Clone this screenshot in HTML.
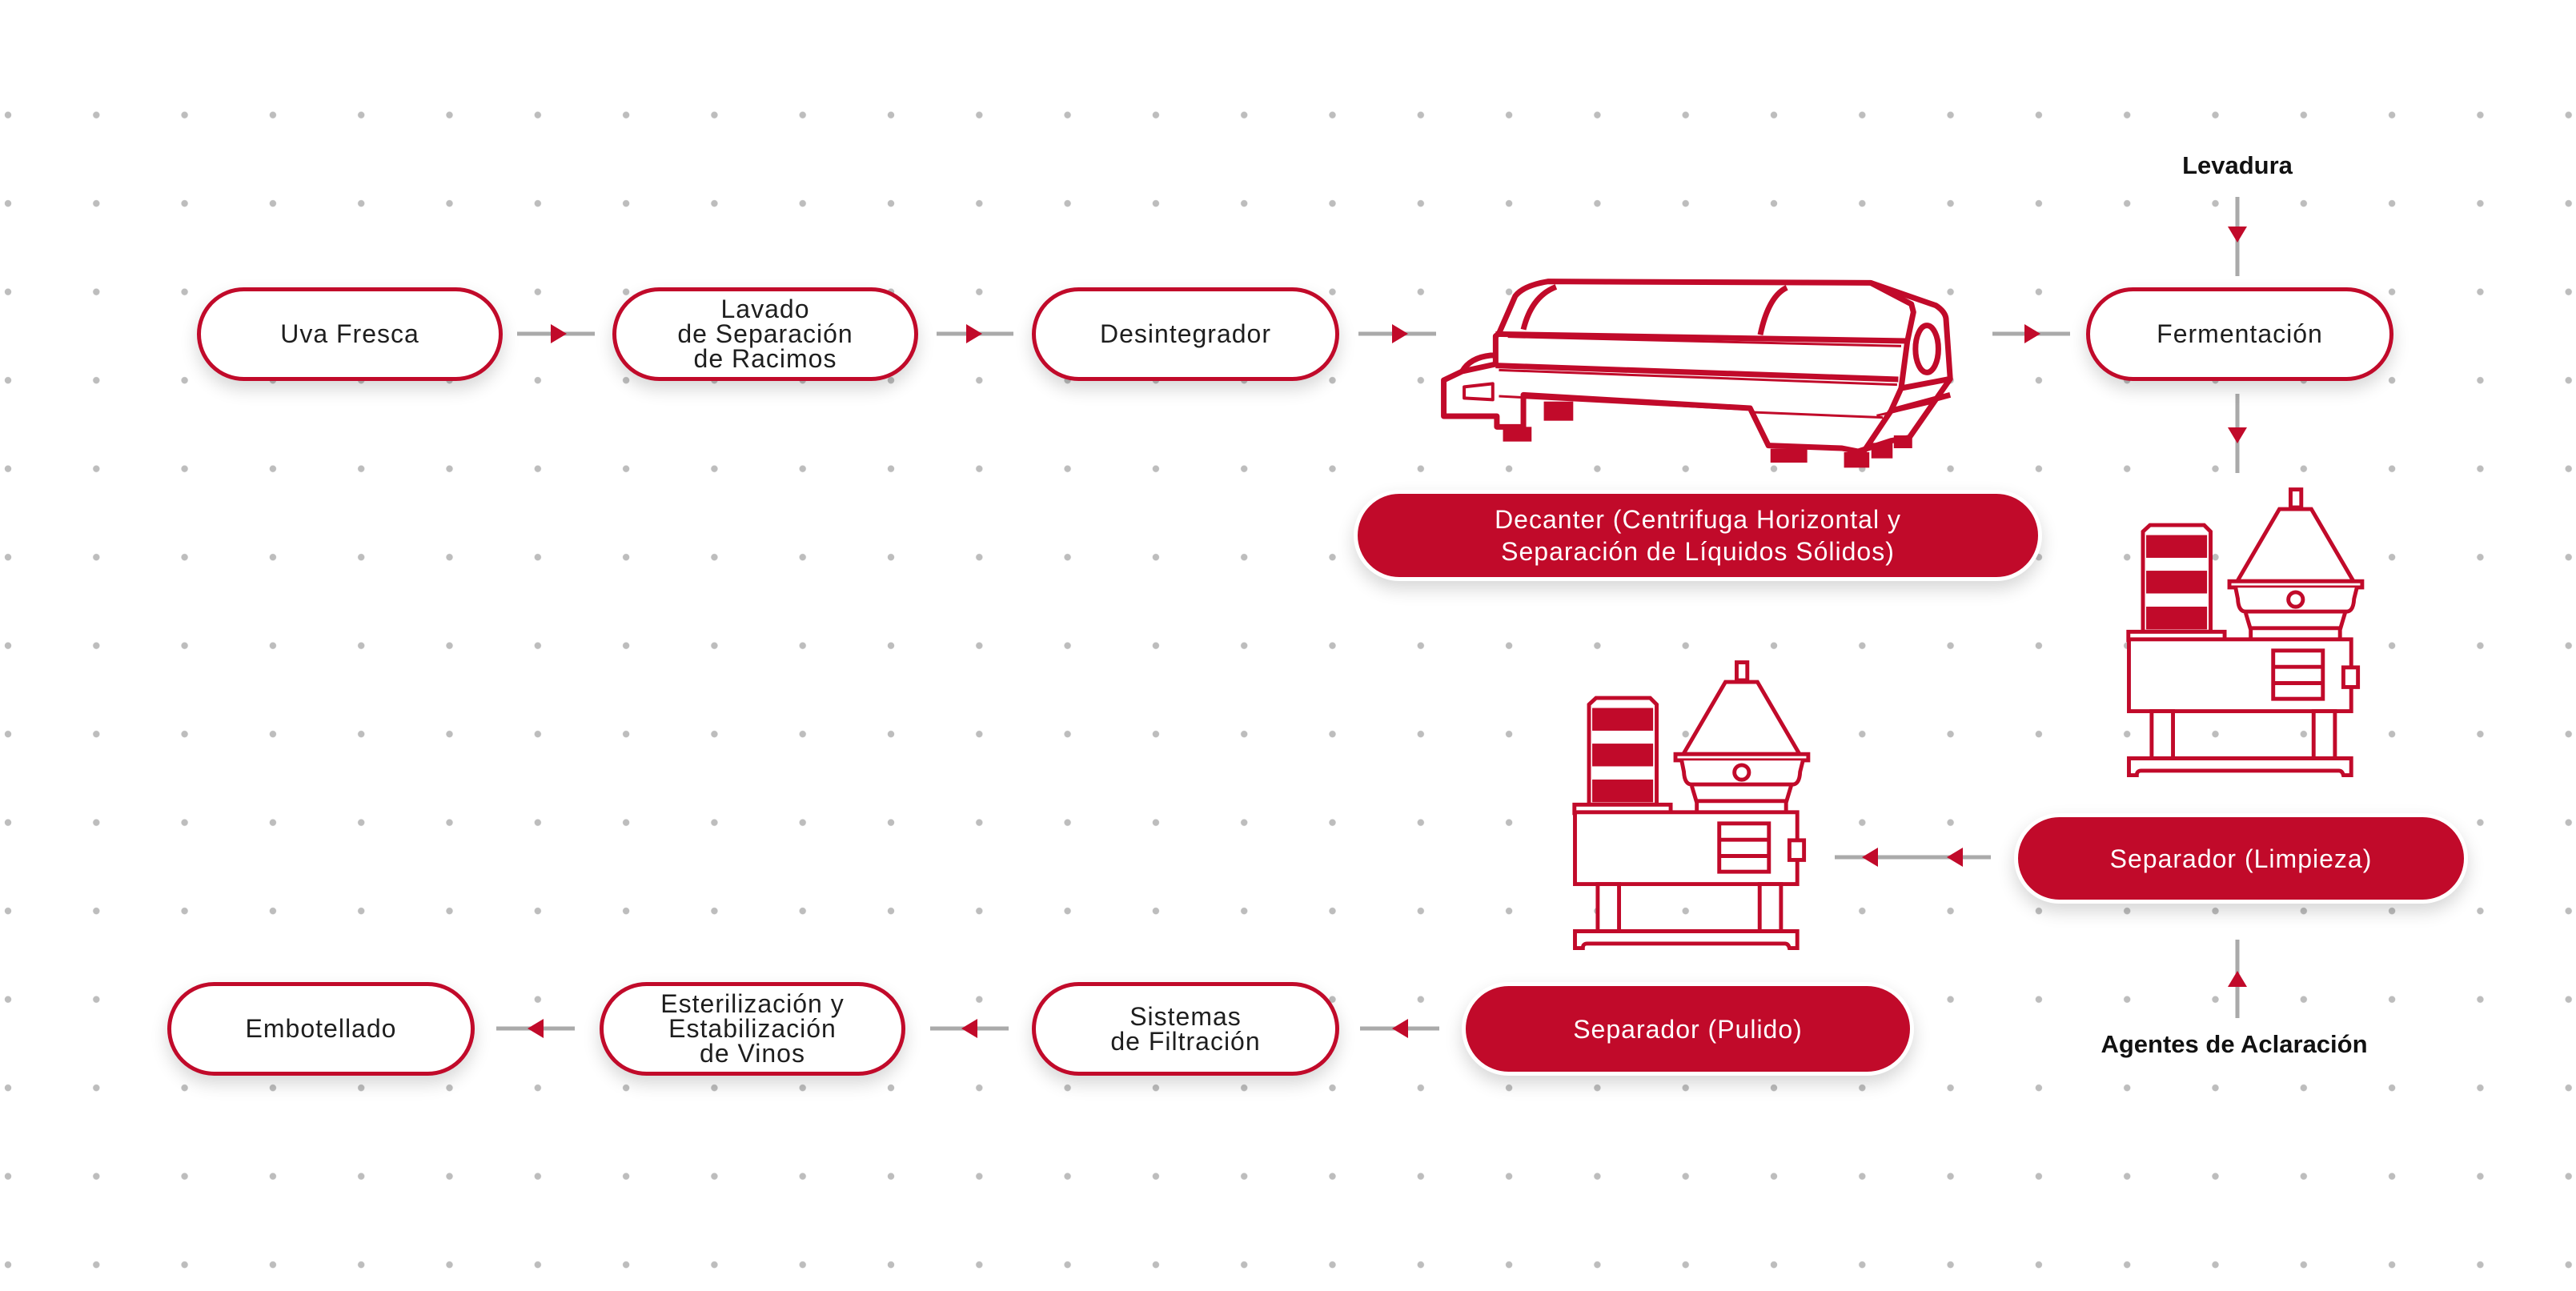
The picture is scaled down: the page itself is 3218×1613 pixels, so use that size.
<!DOCTYPE html>
<html><head><meta charset="utf-8"><style>
html,body{margin:0;padding:0}
body{width:3218px;height:1613px;position:relative;background:#fff;overflow:hidden;font-family:"Liberation Sans",sans-serif}
.b{position:absolute;box-sizing:border-box;border:5px solid #c10a2a;border-radius:60px;background:#fff;box-shadow:0 10px 22px rgba(0,0,0,.16);display:flex;align-items:center;justify-content:center;text-align:center;color:#1e1e1e;font-size:32px;line-height:31px;letter-spacing:1px}
.f{background:#c10a2a;border-color:#fff;color:#fff;line-height:40px}
.lbl{position:absolute;font-weight:bold;font-size:31px;color:#111;transform:translateX(-50%);white-space:nowrap}
svg{position:absolute}
</style></head><body>
<svg width="3218" height="1613" style="left:0;top:0">
<defs><pattern id="d" x="10" y="143.7" width="110.3" height="110.5" patternUnits="userSpaceOnUse"><circle cx="0" cy="0" r="4.2" fill="#bdbdbd"/><circle cx="110.3" cy="0" r="4.2" fill="#bdbdbd"/><circle cx="0" cy="110.5" r="4.2" fill="#bdbdbd"/><circle cx="110.3" cy="110.5" r="4.2" fill="#bdbdbd"/></pattern></defs>
<rect x="5" y="138" width="3210" height="1448" fill="url(#d)"/>
<g stroke="#aaa" stroke-width="5">
<line x1="646" y1="417" x2="743" y2="417"/><line x1="1170" y1="417" x2="1266" y2="417"/>
<line x1="1697" y1="417" x2="1794" y2="417"/><line x1="2489" y1="417" x2="2586" y2="417"/>
<line x1="2795" y1="246" x2="2795" y2="345"/><line x1="2795" y1="492" x2="2795" y2="591"/>
<line x1="2292" y1="1071" x2="2487" y2="1071"/><line x1="2795" y1="1174" x2="2795" y2="1272"/>
<line x1="1699" y1="1285" x2="1798" y2="1285"/><line x1="1162" y1="1285" x2="1260" y2="1285"/><line x1="620" y1="1285" x2="718" y2="1285"/>
</g>
<g fill="#c10a2a">
<path d="M688 405 L708 417 L688 429Z"/><path d="M1207 405 L1227 417 L1207 429Z"/><path d="M1739 405 L1759 417 L1739 429Z"/><path d="M2529 405 L2549 417 L2529 429Z"/>
<path d="M2783 283 L2795 303 L2807 283Z"/><path d="M2783 534 L2795 554 L2807 534Z"/>
<path d="M2346 1059 L2326 1071 L2346 1083Z"/><path d="M2452 1059 L2432 1071 L2452 1083Z"/>
<path d="M2783 1233 L2795 1213 L2807 1233Z"/>
<path d="M1759 1273 L1739 1285 L1759 1297Z"/><path d="M1221 1273 L1201 1285 L1221 1297Z"/><path d="M679 1273 L659 1285 L679 1297Z"/>
</g>
</svg>

<!-- Decanter drawing -->
<svg style="left:1750px;top:320px" width="800" height="420" viewBox="0 0 1568 1260" preserveAspectRatio="none" fill="#fff" stroke="#c10a2a" stroke-width="7" stroke-linejoin="round">
<g vector-effect="non-scaling-stroke">
<path vector-effect="non-scaling-stroke" d="M105 465 L150 432 L232 405 L232 300 L240 290 L280 150 Q300 110 360 95 L1150 100 L1310 185 Q1335 210 1335 240 L1345 460 L1245 680 L1200 692 L1120 732 L1080 720 L900 710 L855 570 L300 520 L300 640 L235 640 L235 600 L105 600 Z"/>
<path vector-effect="non-scaling-stroke" d="M300 275 Q320 150 380 115" fill="none"/><path vector-effect="non-scaling-stroke" d="M880 295 Q900 150 945 118" fill="none"/>
<path vector-effect="non-scaling-stroke" d="M1150 100 L1250 180 L1255 210 L1240 320 L1225 495 L1345 460" fill="none"/>
<path vector-effect="non-scaling-stroke" d="M232 292 L1240 318" fill="none"/>
<path vector-effect="non-scaling-stroke" d="M262 302 L1225 337" fill="none" stroke-width="3"/>
<path vector-effect="non-scaling-stroke" d="M232 410 L1218 462" fill="none"/><path vector-effect="non-scaling-stroke" d="M240 427 L1215 482" fill="none" stroke-width="3"/>
<path vector-effect="non-scaling-stroke" d="M1225 495 L1200 580 L1130 740" fill="none"/><path vector-effect="non-scaling-stroke" d="M1200 580 L1345 520" fill="none"/><path vector-effect="non-scaling-stroke" d="M1165 598 L1300 550" fill="none" stroke-width="3"/>
<path vector-effect="non-scaling-stroke" d="M150 432 Q170 380 220 372 L232 372" fill="none"/>
<path vector-effect="non-scaling-stroke" d="M155 490 L225 478 L225 538 L155 532 Z" stroke-width="4"/>
<path vector-effect="non-scaling-stroke" d="M240 525 L855 575" fill="none" stroke-width="3"/>
<path vector-effect="non-scaling-stroke" d="M860 585 L1180 605" fill="none" stroke-width="3"/>
<ellipse vector-effect="non-scaling-stroke" cx="1288" cy="348" rx="28" ry="88" fill="none"/>
</g>
<g fill="#c10a2a" stroke="none">
<rect x="250" y="640" width="70" height="55"/><rect x="350" y="545" width="72" height="72"/>
<rect x="905" y="722" width="90" height="52"/><rect x="1085" y="735" width="62" height="58"/>
<rect x="1152" y="700" width="52" height="58"/><rect x="1207" y="672" width="45" height="48"/>
</g>
</svg>

<!-- Separator template 1 -->
<svg style="left:2550px;top:580px" width="550" height="560" viewBox="0 0 1568 1597" fill="#fff" stroke="#c10a2a" stroke-width="14">
<defs><pattern id="fin" x="378" y="0" width="14.5" height="20" patternUnits="userSpaceOnUse"><rect width="14.5" height="20" fill="#eab3bd"/><rect width="3.5" height="20" fill="#c10a2a"/></pattern></defs>
<path d="M362 240 L387 217 L580 217 L603 240 L603 597 L362 597 Z"/>
<g stroke-width="5" fill="url(#fin)"><rect x="376" y="255" width="212" height="76"/><rect x="376" y="382" width="212" height="76"/><rect x="376" y="510" width="212" height="76"/></g>
<rect x="310" y="597" width="343" height="30"/>
<rect x="312" y="624" width="792" height="256"/>
<rect x="826" y="664" width="177" height="172"/><path d="M826 722 L1003 722 M826 780 L1003 780"/>
<rect x="1076" y="724" width="52" height="70"/>
<rect x="393" y="880" width="76" height="168"/><rect x="970" y="880" width="76" height="168"/>
<path d="M312 1048 L1104 1048 L1104 1108 L1076 1108 Q1072 1092 1060 1092 L356 1092 Q340 1092 340 1108 L312 1108 Z"/>
<rect x="888" y="90" width="38" height="64"/>
<path d="M848 160 L962 160 L1112 417 L698 417 Z"/>
<rect x="670" y="417" width="473" height="22"/>
<path d="M692 440 L700 480 Q702 525 728 525 L1090 525 Q1112 522 1114 480 L1124 440"/>
<circle cx="906" cy="482" r="26"/>
<path d="M728 530 L746 590 L746 622 M1082 530 L1064 590 L1064 622 M746 584 L1064 584"/>
</svg>
<!-- Separator 2 -->
<svg style="left:1858px;top:796px" width="550" height="560" viewBox="0 0 1568 1597" fill="#fff" stroke="#c10a2a" stroke-width="14">
<path d="M362 240 L387 217 L580 217 L603 240 L603 597 L362 597 Z"/>
<g stroke-width="5" fill="url(#fin)"><rect x="376" y="255" width="212" height="76"/><rect x="376" y="382" width="212" height="76"/><rect x="376" y="510" width="212" height="76"/></g>
<rect x="310" y="597" width="343" height="30"/>
<rect x="312" y="624" width="792" height="256"/>
<rect x="826" y="664" width="177" height="172"/><path d="M826 722 L1003 722 M826 780 L1003 780"/>
<rect x="1076" y="724" width="52" height="70"/>
<rect x="393" y="880" width="76" height="168"/><rect x="970" y="880" width="76" height="168"/>
<path d="M312 1048 L1104 1048 L1104 1108 L1076 1108 Q1072 1092 1060 1092 L356 1092 Q340 1092 340 1108 L312 1108 Z"/>
<rect x="888" y="90" width="38" height="64"/>
<path d="M848 160 L962 160 L1112 417 L698 417 Z"/>
<rect x="670" y="417" width="473" height="22"/>
<path d="M692 440 L700 480 Q702 525 728 525 L1090 525 Q1112 522 1114 480 L1124 440"/>
<circle cx="906" cy="482" r="26"/>
<path d="M728 530 L746 590 L746 622 M1082 530 L1064 590 L1064 622 M746 584 L1064 584"/>
</svg>

<div class="b" style="left:246px;top:359px;width:382px;height:117px">Uva Fresca</div>
<div class="b" style="left:765px;top:359px;width:382px;height:117px">Lavado<br>de Separación<br>de Racimos</div>
<div class="b" style="left:1289px;top:359px;width:384px;height:117px">Desintegrador</div>
<div class="b" style="left:2606px;top:359px;width:384px;height:117px">Fermentación</div>
<div class="b f" style="left:1691px;top:612px;width:860px;height:114px">Decanter (Centrifuga Horizontal y<br>Separación de Líquidos Sólidos)</div>
<div class="b f" style="left:2516px;top:1016px;width:567px;height:113px">Separador (Limpieza)</div>
<div class="b f" style="left:1826px;top:1227px;width:565px;height:117px">Separador (Pulido)</div>
<div class="b" style="left:1289px;top:1227px;width:384px;height:117px">Sistemas<br>de Filtración</div>
<div class="b" style="left:749px;top:1227px;width:382px;height:117px">Esterilización y<br>Estabilización<br>de Vinos</div>
<div class="b" style="left:209px;top:1227px;width:384px;height:117px">Embotellado</div>
<div class="lbl" style="left:2795px;top:189px">Levadura</div>
<div class="lbl" style="left:2791px;top:1287px">Agentes de Aclaración</div>
</body></html>
